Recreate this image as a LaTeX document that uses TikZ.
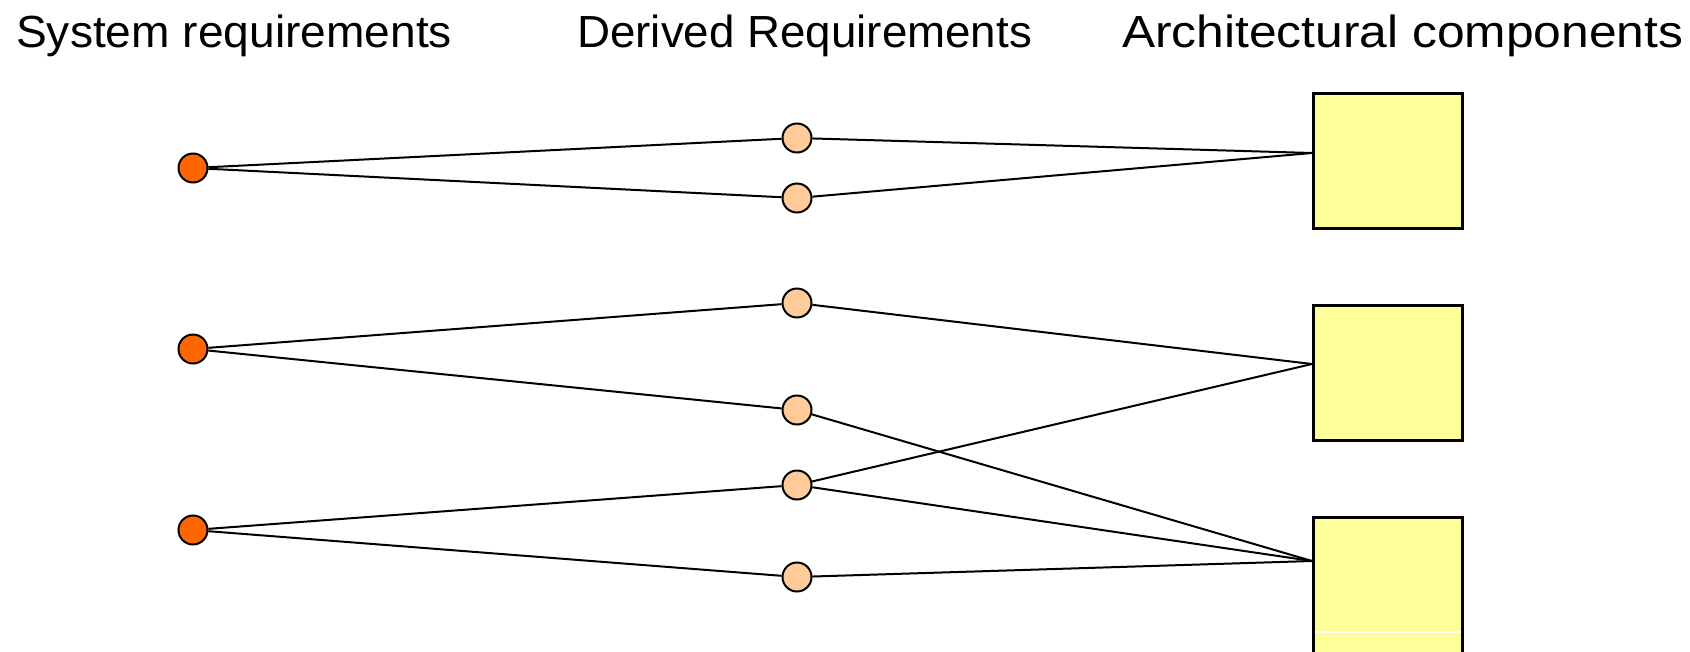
\documentclass[tikz,border=0pt]{standalone}
\usepackage{fontspec}
\setmainfont{Liberation Sans}
\begin{document}
\begin{tikzpicture}[x=1pt,y=-1pt,
  sysreq/.style={circle,draw=black,line width=2pt,fill={rgb,255:red,255;green,102;blue,0},minimum size=29pt,inner sep=0pt},
  derreq/.style={circle,draw=black,line width=2pt,fill={rgb,255:red,255;green,204;blue,153},minimum size=29pt,inner sep=0pt},
  comp/.style={rectangle,draw=black,line width=3pt,fill={rgb,255:red,255;green,255;blue,153},minimum width=149pt,minimum height=135pt,inner sep=0pt,outer sep=0pt,anchor=north west},
  link/.style={draw=black,line width=2pt},
  title/.style={font=\fontsize{45}{50}\selectfont,anchor=base west,inner sep=0pt}]
\useasboundingbox (0,0) rectangle (1690,651);
\clip (0,0) rectangle (1690,651);
\node[title] (t1) at (16,47) {\scalebox{1.025}[1]{System requirements}};
\node[title] (t2) at (577,47) {\scalebox{1.016}[1]{Derived Requirements}};
\node[title] (t3) at (1122,47) {\scalebox{1.105}[1]{Architectural components}};
% components
\node[comp] (c1) at (1313.5,93.5) {};
\node[comp] (c2) at (1313.5,305.5) {};
\node[comp,minimum height=160pt] (c3) at (1313.5,517.5) {};
\draw[white,line width=1.5pt] (1315,632) -- (1461,632);
\coordinate (a1) at (1312,153);
\coordinate (a2) at (1312,364);
\coordinate (a3) at (1312,561);
% system requirements
\node[sysreq] (s1) at (193,168) {};
\node[sysreq] (s2) at (193,349) {};
\node[sysreq] (s3) at (193,530) {};
% derived
\node[derreq] (d1) at (797,138) {};
\node[derreq] (d2) at (797,198) {};
\node[derreq] (d3) at (797,303) {};
\node[derreq] (d4) at (797,410) {};
\node[derreq] (d5) at (797,485) {};
\node[derreq] (d6) at (797,577) {};
% links
\draw[link] (s1) -- (d1);
\draw[link] (s1) -- (d2);
\draw[link] (s2) -- (d3);
\draw[link] (s2) -- (d4);
\draw[link] (s3) -- (d5);
\draw[link] (s3) -- (d6);
\draw[link] (d1) -- (a1);
\draw[link] (d2) -- (a1);
\draw[link] (d3) -- (a2);
\draw[link] (d5) -- (a2);
\draw[link] (d4) -- (a3);
\draw[link] (d5) -- (a3);
\draw[link] (d6) -- (a3);
\end{tikzpicture}
\end{document}
